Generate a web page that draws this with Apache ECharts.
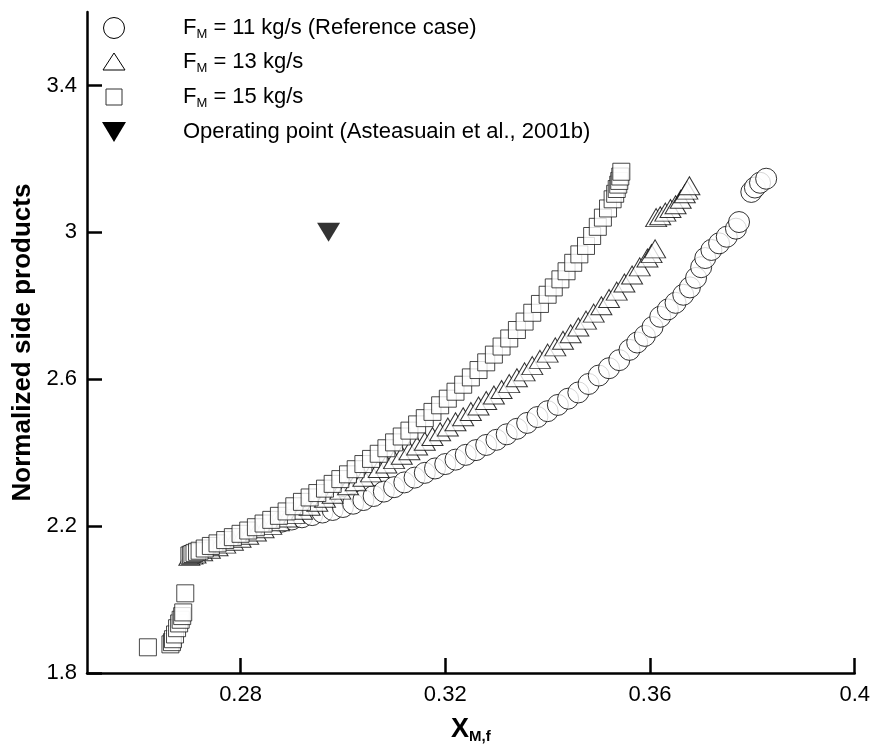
<!DOCTYPE html>
<html>
<head>
<meta charset="utf-8">
<script src="https://cdn.jsdelivr.net/npm/echarts@6/dist/echarts.min.js"></script>
<style>
  html, body { margin: 0; padding: 0; background: #fff; }
  #chart { width: 873px; height: 749px; }
</style>
</head>
<body>
<div id="chart"></div>
<script>
// Side products vs. monomer fraction in the feed, for three monomer flows
const xTicks = [0.28, 0.32, 0.36, 0.4];
const yTicks = [1.8, 2.2, 2.6, 3.0, 3.4];

// F_M = 11 kg/s (reference case)
const fm11 = [
  [0.2880,2.212],[0.2900,2.218],[0.2920,2.224],[0.2940,2.230],[0.2960,2.237],
  [0.2980,2.244],[0.3000,2.252],[0.3020,2.261],[0.3040,2.271],[0.3060,2.282],
  [0.3080,2.294],[0.3100,2.306],[0.3120,2.319],[0.3140,2.332],[0.3160,2.345],
  [0.3180,2.357],[0.3200,2.369],[0.3220,2.381],[0.3240,2.394],[0.3260,2.407],
  [0.3280,2.421],[0.3300,2.435],[0.3320,2.450],[0.3340,2.465],[0.3360,2.481],
  [0.3380,2.497],[0.3400,2.513],[0.3420,2.530],[0.3440,2.547],[0.3460,2.564],
  [0.3480,2.587],[0.3500,2.610],[0.3520,2.630],[0.3540,2.652],[0.3560,2.680],
  [0.3575,2.700],[0.3590,2.718],[0.3605,2.742],[0.3620,2.770],[0.3635,2.790],
  [0.3650,2.808],[0.3665,2.830],[0.3678,2.850],[0.3690,2.876],[0.3700,2.905],
  [0.3708,2.930],[0.3720,2.952],[0.3735,2.970],[0.3750,2.988],[0.3768,3.010],
  [0.3774,3.028],
  [0.3798,3.110],[0.3805,3.122],[0.3815,3.135],[0.3827,3.146]
];

// F_M = 13 kg/s
const fm13 = [
  [0.2700,2.118],[0.2706,2.121],[0.2712,2.124],[0.2725,2.130],[0.2740,2.137],
  [0.2755,2.144],[0.2770,2.151],[0.2785,2.159],[0.2800,2.167],[0.2815,2.175],
  [0.2830,2.184],[0.2845,2.193],[0.2860,2.202],[0.2875,2.212],[0.2890,2.222],
  [0.2905,2.232],[0.2920,2.243],[0.2935,2.254],[0.2950,2.265],[0.2965,2.276],
  [0.2980,2.287],[0.2995,2.298],[0.3010,2.310],[0.3025,2.321],[0.3040,2.333],
  [0.3055,2.345],[0.3070,2.357],[0.3085,2.369],[0.3100,2.381],[0.3115,2.393],
  [0.3130,2.405],[0.3145,2.418],[0.3160,2.431],[0.3175,2.444],[0.3190,2.457],
  [0.3205,2.470],[0.3220,2.484],[0.3235,2.498],[0.3250,2.512],[0.3265,2.527],
  [0.3280,2.542],[0.3295,2.557],[0.3310,2.572],[0.3325,2.588],[0.3340,2.604],
  [0.3355,2.620],[0.3370,2.637],[0.3385,2.654],[0.3400,2.671],[0.3415,2.688],
  [0.3430,2.706],[0.3445,2.724],[0.3460,2.742],[0.3475,2.761],[0.3490,2.780],
  [0.3505,2.800],[0.3520,2.820],[0.3535,2.840],[0.3550,2.862],[0.3565,2.884],
  [0.3580,2.906],[0.3595,2.930],[0.3603,2.942],[0.3610,2.955],
  [0.3612,3.040],[0.3620,3.045],[0.3630,3.055],[0.3640,3.065],[0.3650,3.075],
  [0.3660,3.090],[0.3668,3.105],[0.3673,3.115],[0.3677,3.127]
];

// F_M = 15 kg/s
const fm15 = [
  [0.2619,1.870],[0.2663,1.878],[0.2666,1.884],[0.2668,1.892],[0.2672,1.905],
  [0.2676,1.922],[0.2680,1.935],[0.2683,1.945],[0.2686,1.955],[0.2688,1.965],
  [0.2692,2.017],
  [0.2700,2.120],[0.2703,2.122],[0.2706,2.124],[0.2710,2.127],[0.2715,2.130],
  [0.2720,2.133],[0.2730,2.139],[0.2742,2.146],[0.2755,2.153],[0.2770,2.162],
  [0.2785,2.170],[0.2800,2.179],[0.2815,2.188],[0.2830,2.197],[0.2845,2.207],
  [0.2860,2.217],[0.2875,2.228],[0.2890,2.240],[0.2905,2.254],[0.2920,2.266],
  [0.2935,2.278],[0.2950,2.290],[0.2965,2.302],[0.2980,2.315],[0.2995,2.328],
  [0.3010,2.341],[0.3025,2.355],[0.3040,2.369],[0.3055,2.383],[0.3070,2.397],
  [0.3085,2.412],[0.3100,2.428],[0.3115,2.444],[0.3130,2.460],[0.3145,2.477],
  [0.3160,2.494],[0.3175,2.511],[0.3190,2.529],[0.3205,2.547],[0.3220,2.566],
  [0.3235,2.585],[0.3250,2.605],[0.3265,2.625],[0.3280,2.646],[0.3295,2.667],
  [0.3310,2.689],[0.3325,2.711],[0.3340,2.734],[0.3355,2.757],[0.3370,2.781],
  [0.3385,2.805],[0.3400,2.830],[0.3412,2.850],[0.3425,2.872],[0.3437,2.894],
  [0.3450,2.917],[0.3462,2.940],[0.3475,2.963],[0.3487,2.990],[0.3498,3.015],
  [0.3508,3.040],[0.3518,3.065],[0.3527,3.090],[0.3532,3.105],[0.3535,3.118],
  [0.3538,3.130],[0.3540,3.140],[0.3542,3.152],[0.3544,3.165]
];

// Operating point (Asteasuain et al., 2001b)
const operatingPoint = [[0.2972, 3.0]];

const legendLabels = [
  '{a|F}{s|M}{a| = 11 kg/s (Reference case)}',
  '{a|F}{s|M}{a| = 13 kg/s}',
  '{a|F}{s|M}{a| = 15 kg/s}',
  '{a|Operating point (Asteasuain et al., 2001b)}'
];

const FONT = '"Liberation Sans", Arial, Helvetica, sans-serif';
const chart = echarts.init(document.getElementById('chart'), null, { renderer: 'canvas' });

const hollow = { color: '#fff', borderColor: '#000', borderWidth: 1 };
const legendRich = {
  a: { fontSize: 22, fontFamily: FONT, color: '#000', lineHeight: 26 },
  s: { fontSize: 13, fontFamily: FONT, color: '#000', padding: [12, 0, 0, 0] }
};
const rowY = [28, 62, 97, 132];

chart.setOption({
  animation: false,
  backgroundColor: '#fff',
  grid: { left: 87, right: 17, top: 12, bottom: 71, containLabel: false },
  xAxis: {
    type: 'value', min: 0.25, max: 0.4,
    name: '{x|X}{s|M,f}', nameLocation: 'middle', nameGap: 42,
    nameTextStyle: {
      rich: {
        x: { fontSize: 27, fontWeight: 'bold', fontFamily: FONT, color: '#000' },
        s: { fontSize: 15, fontWeight: 'bold', fontFamily: FONT, color: '#000', padding: [14, 0, 0, 0] }
      }
    },
    axisLine: { onZero: false, lineStyle: { color: '#000', width: 2.5 } },
    axisTick: { inside: true, length: 15, customValues: xTicks, lineStyle: { color: '#000', width: 2.5 } },
    axisLabel: { customValues: xTicks, fontSize: 22, fontFamily: FONT, color: '#000', margin: 11 },
    splitLine: { show: false }
  },
  yAxis: {
    type: 'value', min: 1.8, max: 3.6,
    name: 'Normalized side products', nameLocation: 'middle', nameGap: 47,
    nameTextStyle: { fontSize: 26, fontWeight: 'bold', fontFamily: FONT, color: '#000' },
    axisLine: { onZero: false, lineStyle: { color: '#000', width: 2.5 } },
    axisTick: { inside: true, length: 15, customValues: yTicks, lineStyle: { color: '#000', width: 2.5 } },
    axisLabel: { customValues: yTicks, fontSize: 22, fontFamily: FONT, color: '#000', margin: 10 },
    splitLine: { show: false }
  },
  series: [
    { name: 'FM11', type: 'scatter', data: fm11, symbol: 'circle', symbolSize: 21, itemStyle: hollow, emphasis: { disabled: true } },
    { name: 'FM13', type: 'scatter', data: fm13, symbol: 'triangle', symbolSize: [21, 18], itemStyle: hollow, emphasis: { disabled: true } },
    { name: 'FM15', type: 'scatter', data: fm15, symbol: 'rect', symbolSize: 17, itemStyle: { color: '#fff', borderColor: '#1a1a1a', borderWidth: 1 }, emphasis: { disabled: true } },
    { name: 'Operating', type: 'scatter', data: operatingPoint, symbol: 'path://M0,0L24,0L12,20Z', symbolSize: [23, 19], itemStyle: { color: '#000' }, emphasis: { disabled: true } }
  ],
  graphic: [
    { type: 'circle', shape: { cx: 114, cy: rowY[0], r: 10.5 }, style: { fill: '#fff', stroke: '#000', lineWidth: 1 } },
    { type: 'polygon', shape: { points: [[114, 53], [125, 70], [103, 70]] }, style: { fill: '#fff', stroke: '#000', lineWidth: 1 } },
    { type: 'rect', shape: { x: 106, y: 89, width: 16, height: 16 }, style: { fill: '#fff', stroke: '#333', lineWidth: 1 } },
    { type: 'polygon', shape: { points: [[102, 122], [126, 122], [114, 142]] }, style: { fill: '#000' } }
  ].concat(legendLabels.map((t, i) => ({
    type: 'text', x: 183, y: rowY[i],
    style: { text: t, rich: legendRich, verticalAlign: 'middle', align: 'left' }
  })))
});
</script>
</body>
</html>
